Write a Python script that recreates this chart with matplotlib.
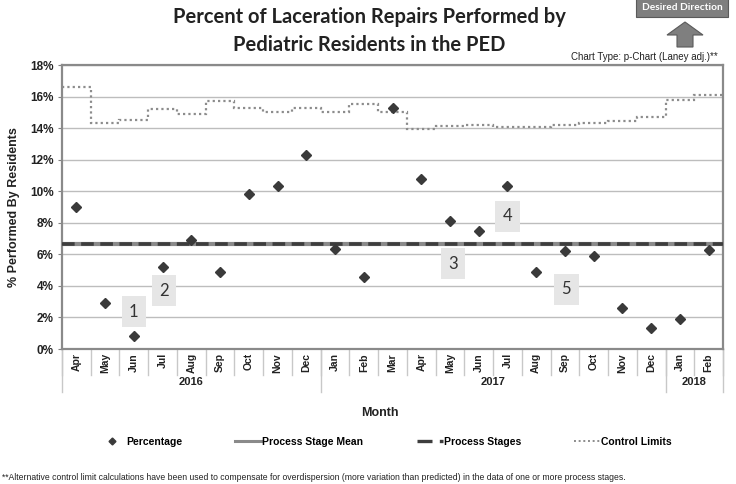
import numpy as np
import matplotlib
matplotlib.use("Agg")
import matplotlib.pyplot as plt
from matplotlib.lines import Line2D
from matplotlib.patches import Polygon
import matplotlib.transforms as mtransforms

# ---------------- data ----------------
months = ["Apr", "May", "Jun", "Jul", "Aug", "Sep", "Oct", "Nov", "Dec",
          "Jan", "Feb", "Mar", "Apr", "May", "Jun", "Jul", "Aug", "Sep",
          "Oct", "Nov", "Dec", "Jan", "Feb"]
years = ["2016", "2017", "2018"]
year_counts = [9, 12, 2]
percentage = [9.0, 2.9, 0.8, 5.2, 6.9, 4.9, 9.85, 10.3, 12.3,
              6.35, 4.55, 15.25, 10.8, 8.1, 7.5, 10.35, 4.9, 6.2,
              5.9, 2.6, 1.3, 1.9, 6.25]
control_limit = [16.6, 14.3, 14.5, 15.2, 14.9, 15.7, 15.3, 15.05, 15.3,
                 15.05, 15.5, 15.0, 13.95, 14.15, 14.2, 14.05, 14.1, 14.2,
                 14.35, 14.45, 14.7, 15.8, 16.1]
stage_mean = 6.67
stage_labels = ["1", "2", "3", "4", "5"]
stage_label_x = [2.0, 3.05, 13.1, 15.0, 17.05]
stage_label_y = [2.35, 3.7, 5.4, 8.4, 3.8]

# ---------------- figure ----------------
W, H = 736, 484
fig = plt.figure(figsize=(W / 100, H / 100), dpi=100)
ax = fig.add_axes([62 / W, 1 - 349 / H, (723 - 62) / W, (349 - 65) / H])

x = np.arange(len(months))
edges = np.arange(len(months) + 1) - 0.5

ax.set_xlim(-0.5, len(months) - 0.5)
ax.set_ylim(0, 18)
ax.set_yticks(np.arange(0, 19, 2))
ax.set_yticklabels([f"{v}%" for v in range(0, 19, 2)], fontsize=8.5,
                   fontweight="bold", family="Liberation Sans", color="#222222")
ax.yaxis.grid(True, color="#bdbdbd", linewidth=1)
ax.set_axisbelow(True)
ax.tick_params(axis="y", length=3, color="#808080", pad=3)
for s in ax.spines.values():
    s.set_color("#8a8a8a")
    s.set_linewidth(1.6)

# x-axis: month labels
ax.set_xticks(x)
ax.set_xticklabels(months, rotation=90, fontsize=7.5, fontweight="bold",
                   family="Liberation Sans", color="#222222")
ax.tick_params(axis="x", length=0, pad=3)

trans = mtransforms.blended_transform_factory(ax.transData, ax.transAxes)
# month separators
for e in edges:
    ax.plot([e, e], [0, -26 / 284], transform=trans, color="#c8c8c8",
            lw=1, clip_on=False)
# year separators & labels
start = 0
ybound = [edges[0]]
for yr, cnt in zip(years, year_counts):
    center = start + (cnt - 1) / 2
    ax.text(center, -33 / 284, yr, transform=trans, ha="center", va="center",
            fontsize=8, fontweight="bold", family="Liberation Sans",
            color="#222222")
    start += cnt
    ybound.append(edges[start])
for e in ybound:
    ax.plot([e, e], [0, -43 / 284], transform=trans, color="#c8c8c8",
            lw=1, clip_on=False)

# series
ax.stairs(control_limit, edges, baseline=None, color="#8c8c8c", lw=1.6,
          linestyle=(0, (1, 1.4)), zorder=3)
ax.hlines(stage_mean, edges[0], edges[-1], color="#8a8a8a", lw=3, zorder=3)
ax.hlines(stage_mean, edges[0], edges[-1], color="#3d3d3d", lw=2.6,
          linestyles=(0, (3.5, 1.8)), zorder=4)
ax.plot(x, percentage, linestyle="none", marker="D", markersize=5,
        color="#3a3a3a", zorder=5)

for lab, lx, ly in zip(stage_labels, stage_label_x, stage_label_y):
    ax.text(lx, ly, lab, ha="center", va="center", fontsize=12,
            family="Lato", color="#333333", zorder=6,
            bbox=dict(boxstyle="square,pad=0.45", facecolor="#e6e6e6",
                      edgecolor="none"))

# axis labels
fig.text(14 / W, 1 - 207 / H, "% Performed By Residents", rotation=90,
         ha="center", va="center", fontsize=9, fontweight="bold",
         family="Liberation Sans", color="#222222")
fig.text(380 / W, 1 - 413 / H, "Month", ha="center", va="center",
         fontsize=9, fontweight="bold", family="Liberation Sans",
         color="#222222")

# title
fig.text(369 / W, 1 - 31 / H,
         "Percent of Laceration Repairs Performed by\nPediatric Residents in the PED",
         ha="center", va="center", fontsize=14.5, fontweight="bold",
         family="Lato", color="#222222", linespacing=1.5)

fig.text(718 / W, 1 - 57 / H, "Chart Type: p-Chart (Laney adj.)**",
         ha="right", va="center", fontsize=7, family="Liberation Sans",
         color="#222222")

# desired direction box and arrow
fig.text(682 / W, 1 - 7 / H, "Desired Direction", ha="center", va="center",
         fontsize=7.3, fontweight="bold", family="Lato", color="white",
         bbox=dict(boxstyle="square,pad=0.55", facecolor="#7f7f7f",
                   edgecolor="#5a5a5a", linewidth=0.8))
arrow_px = [(685, 22), (703, 35), (693, 35), (693, 47), (677, 47), (677, 35),
            (667, 35)]
fig.patches.append(Polygon([(px / W, 1 - py / H) for px, py in arrow_px],
                           closed=True, transform=fig.transFigure,
                           facecolor="#7f7f7f", edgecolor="#5a5a5a", lw=0.8))

# legend
handles = [
    Line2D([], [], linestyle="none", marker="D", markersize=3.5,
           color="#3a3a3a"),
    Line2D([], [], color="#8a8a8a", lw=2.2),
    Line2D([], [], color="#3d3d3d", lw=2.4, linestyle=(0, (4.5, 2.2))),
    Line2D([], [], color="#8c8c8c", lw=1.4, linestyle=(0, (1, 1.4))),
]
labels = ["Percentage", "Process Stage Mean", "Process Stages", "Control Limits"]
fig.legend(handles, labels, loc="center left", ncol=4,
           bbox_to_anchor=(99 / W, 1 - 442 / H), frameon=False, borderpad=0,
           borderaxespad=0,
           handlelength=2.5, handletextpad=0.1, columnspacing=5.1,
           prop=dict(family="Liberation Sans", weight="bold", size=7.5))

fig.text(2 / W, 1 - 478 / H,
         "**Alternative control limit calculations have been used to compensate for overdispersion (more variation than predicted) in the data of one or more process stages.",
         ha="left", va="center", fontsize=6.2, family="Liberation Sans",
         color="#222222")

fig.savefig("out.png", dpi=100)
